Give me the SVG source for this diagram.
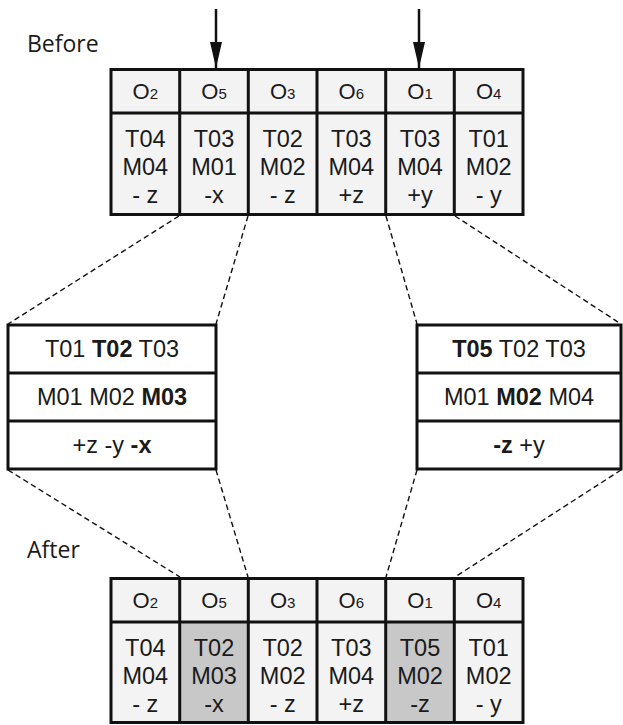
<svg xmlns="http://www.w3.org/2000/svg" width="623" height="725" viewBox="0 0 623 725">
<defs>
<style>
.cell{fill:#f3f3f3;stroke:none}
.shade{fill:#c8c8c8;stroke:none}
.grid{fill:none;stroke:#111;stroke-width:3}
.box{fill:#fff;stroke:#111;stroke-width:3}
.t{font-family:"Liberation Sans",Arial,sans-serif;font-size:23.5px;fill:#1a1a1a;text-anchor:middle}
.h{font-family:"Liberation Sans",Arial,sans-serif;font-size:22px;fill:#1a1a1a;text-anchor:middle}
.sub{font-size:15px}
.b{font-weight:bold}
.lbl{font-family:"Open Sans","DejaVu Sans",sans-serif;font-size:23px;fill:#1a1a1a}
.dash{fill:none;stroke:#111;stroke-width:1.4;stroke-dasharray:5.5 3.5}
.arr{fill:none;stroke:#111;stroke-width:2.5}
</style>
<marker id="ah" viewBox="0 0 26 12" refX="26" refY="6" markerWidth="26" markerHeight="12" markerUnits="userSpaceOnUse" orient="auto">
<path d="M0,0 L26,6 L0,12 Z" fill="#111"/>
</marker>
</defs>

<g id="label-before"><text class="lbl" x="27" y="52">Before</text></g>
<g id="label-after"><text class="lbl" x="27" y="558">After</text></g>

<g id="table-before">
<rect class="cell" x="111" y="69" width="412" height="145"/>
<path class="grid" d="M111,69.5H523V214.5H111Z M111,113H523 M179.7,69V215 M248.3,69V215 M317,69V215 M385.7,69V215 M454.3,69V215"/>
<text class="h" x="145.3" y="99">O<tspan class="sub">2</tspan></text>
<text class="h" x="214" y="99">O<tspan class="sub">5</tspan></text>
<text class="h" x="282.7" y="99">O<tspan class="sub">3</tspan></text>
<text class="h" x="351.3" y="99">O<tspan class="sub">6</tspan></text>
<text class="h" x="420" y="99">O<tspan class="sub">1</tspan></text>
<text class="h" x="488.7" y="99">O<tspan class="sub">4</tspan></text>
<text class="t" x="145.3" y="147">T04<tspan x="145.3" y="175">M04</tspan><tspan x="145.3" y="203">- z</tspan></text>
<text class="t" x="214" y="147">T03<tspan x="214" y="175">M01</tspan><tspan x="214" y="203">-x</tspan></text>
<text class="t" x="282.7" y="147">T02<tspan x="282.7" y="175">M02</tspan><tspan x="282.7" y="203">- z</tspan></text>
<text class="t" x="351.3" y="147">T03<tspan x="351.3" y="175">M04</tspan><tspan x="351.3" y="203">+z</tspan></text>
<text class="t" x="420" y="147">T03<tspan x="420" y="175">M04</tspan><tspan x="420" y="203">+y</tspan></text>
<text class="t" x="488.7" y="147">T01<tspan x="488.7" y="175">M02</tspan><tspan x="488.7" y="203">- y</tspan></text>
</g>

<g id="box-left">
<rect class="box" x="8" y="325" width="208" height="144"/>
<path class="grid" d="M8,373H216 M8,421H216"/>
<text class="t" x="112" y="357">T01 <tspan class="b">T02</tspan> T03</text>
<text class="t" x="112" y="405">M01 M02 <tspan class="b">M03</tspan></text>
<text class="t" x="112" y="453">+z -y <tspan class="b">-x</tspan></text>
</g>

<g id="box-right">
<rect class="box" x="417" y="325" width="204" height="144"/>
<path class="grid" d="M417,373H621 M417,421H621"/>
<text class="t" x="519" y="357"><tspan class="b">T05</tspan> T02 T03</text>
<text class="t" x="519" y="405">M01 <tspan class="b">M02</tspan> M04</text>
<text class="t" x="519" y="453"><tspan class="b">-z</tspan> +y</text>
</g>

<g id="table-after">
<rect class="cell" x="111" y="578" width="412" height="145"/>
<rect class="shade" x="179.7" y="622" width="68.6" height="101"/>
<rect class="shade" x="385.7" y="622" width="68.6" height="101"/>
<path class="grid" d="M111,578.5H523V722.5H111Z M111,622H523 M179.7,578V723 M248.3,578V723 M317,578V723 M385.7,578V723 M454.3,578V723"/>
<text class="h" x="145.3" y="608">O<tspan class="sub">2</tspan></text>
<text class="h" x="214" y="608">O<tspan class="sub">5</tspan></text>
<text class="h" x="282.7" y="608">O<tspan class="sub">3</tspan></text>
<text class="h" x="351.3" y="608">O<tspan class="sub">6</tspan></text>
<text class="h" x="420" y="608">O<tspan class="sub">1</tspan></text>
<text class="h" x="488.7" y="608">O<tspan class="sub">4</tspan></text>
<text class="t" x="145.3" y="656">T04<tspan x="145.3" y="684">M04</tspan><tspan x="145.3" y="712">- z</tspan></text>
<text class="t" x="214" y="656">T02<tspan x="214" y="684">M03</tspan><tspan x="214" y="712">-x</tspan></text>
<text class="t" x="282.7" y="656">T02<tspan x="282.7" y="684">M02</tspan><tspan x="282.7" y="712">- z</tspan></text>
<text class="t" x="351.3" y="656">T03<tspan x="351.3" y="684">M04</tspan><tspan x="351.3" y="712">+z</tspan></text>
<text class="t" x="420" y="656">T05<tspan x="420" y="684">M02</tspan><tspan x="420" y="712">-z</tspan></text>
<text class="t" x="488.7" y="656">T01<tspan x="488.7" y="684">M02</tspan><tspan x="488.7" y="712">- y</tspan></text>
</g>

<g id="connectors">
<line class="arr" x1="216" y1="9" x2="216" y2="68" marker-end="url(#ah)"/>
<line class="arr" x1="419" y1="9" x2="419" y2="68" marker-end="url(#ah)"/>
<line class="dash" x1="179" y1="216" x2="8" y2="324"/>
<line class="dash" x1="248" y1="216" x2="216" y2="324"/>
<line class="dash" x1="386" y1="216" x2="417" y2="324"/>
<line class="dash" x1="455" y1="216" x2="621" y2="324"/>
<line class="dash" x1="8" y1="470" x2="180" y2="577"/>
<line class="dash" x1="216" y1="470" x2="248" y2="577"/>
<line class="dash" x1="417" y1="470" x2="386" y2="577"/>
<line class="dash" x1="621" y1="470" x2="455" y2="577"/>
</g>
</svg>
